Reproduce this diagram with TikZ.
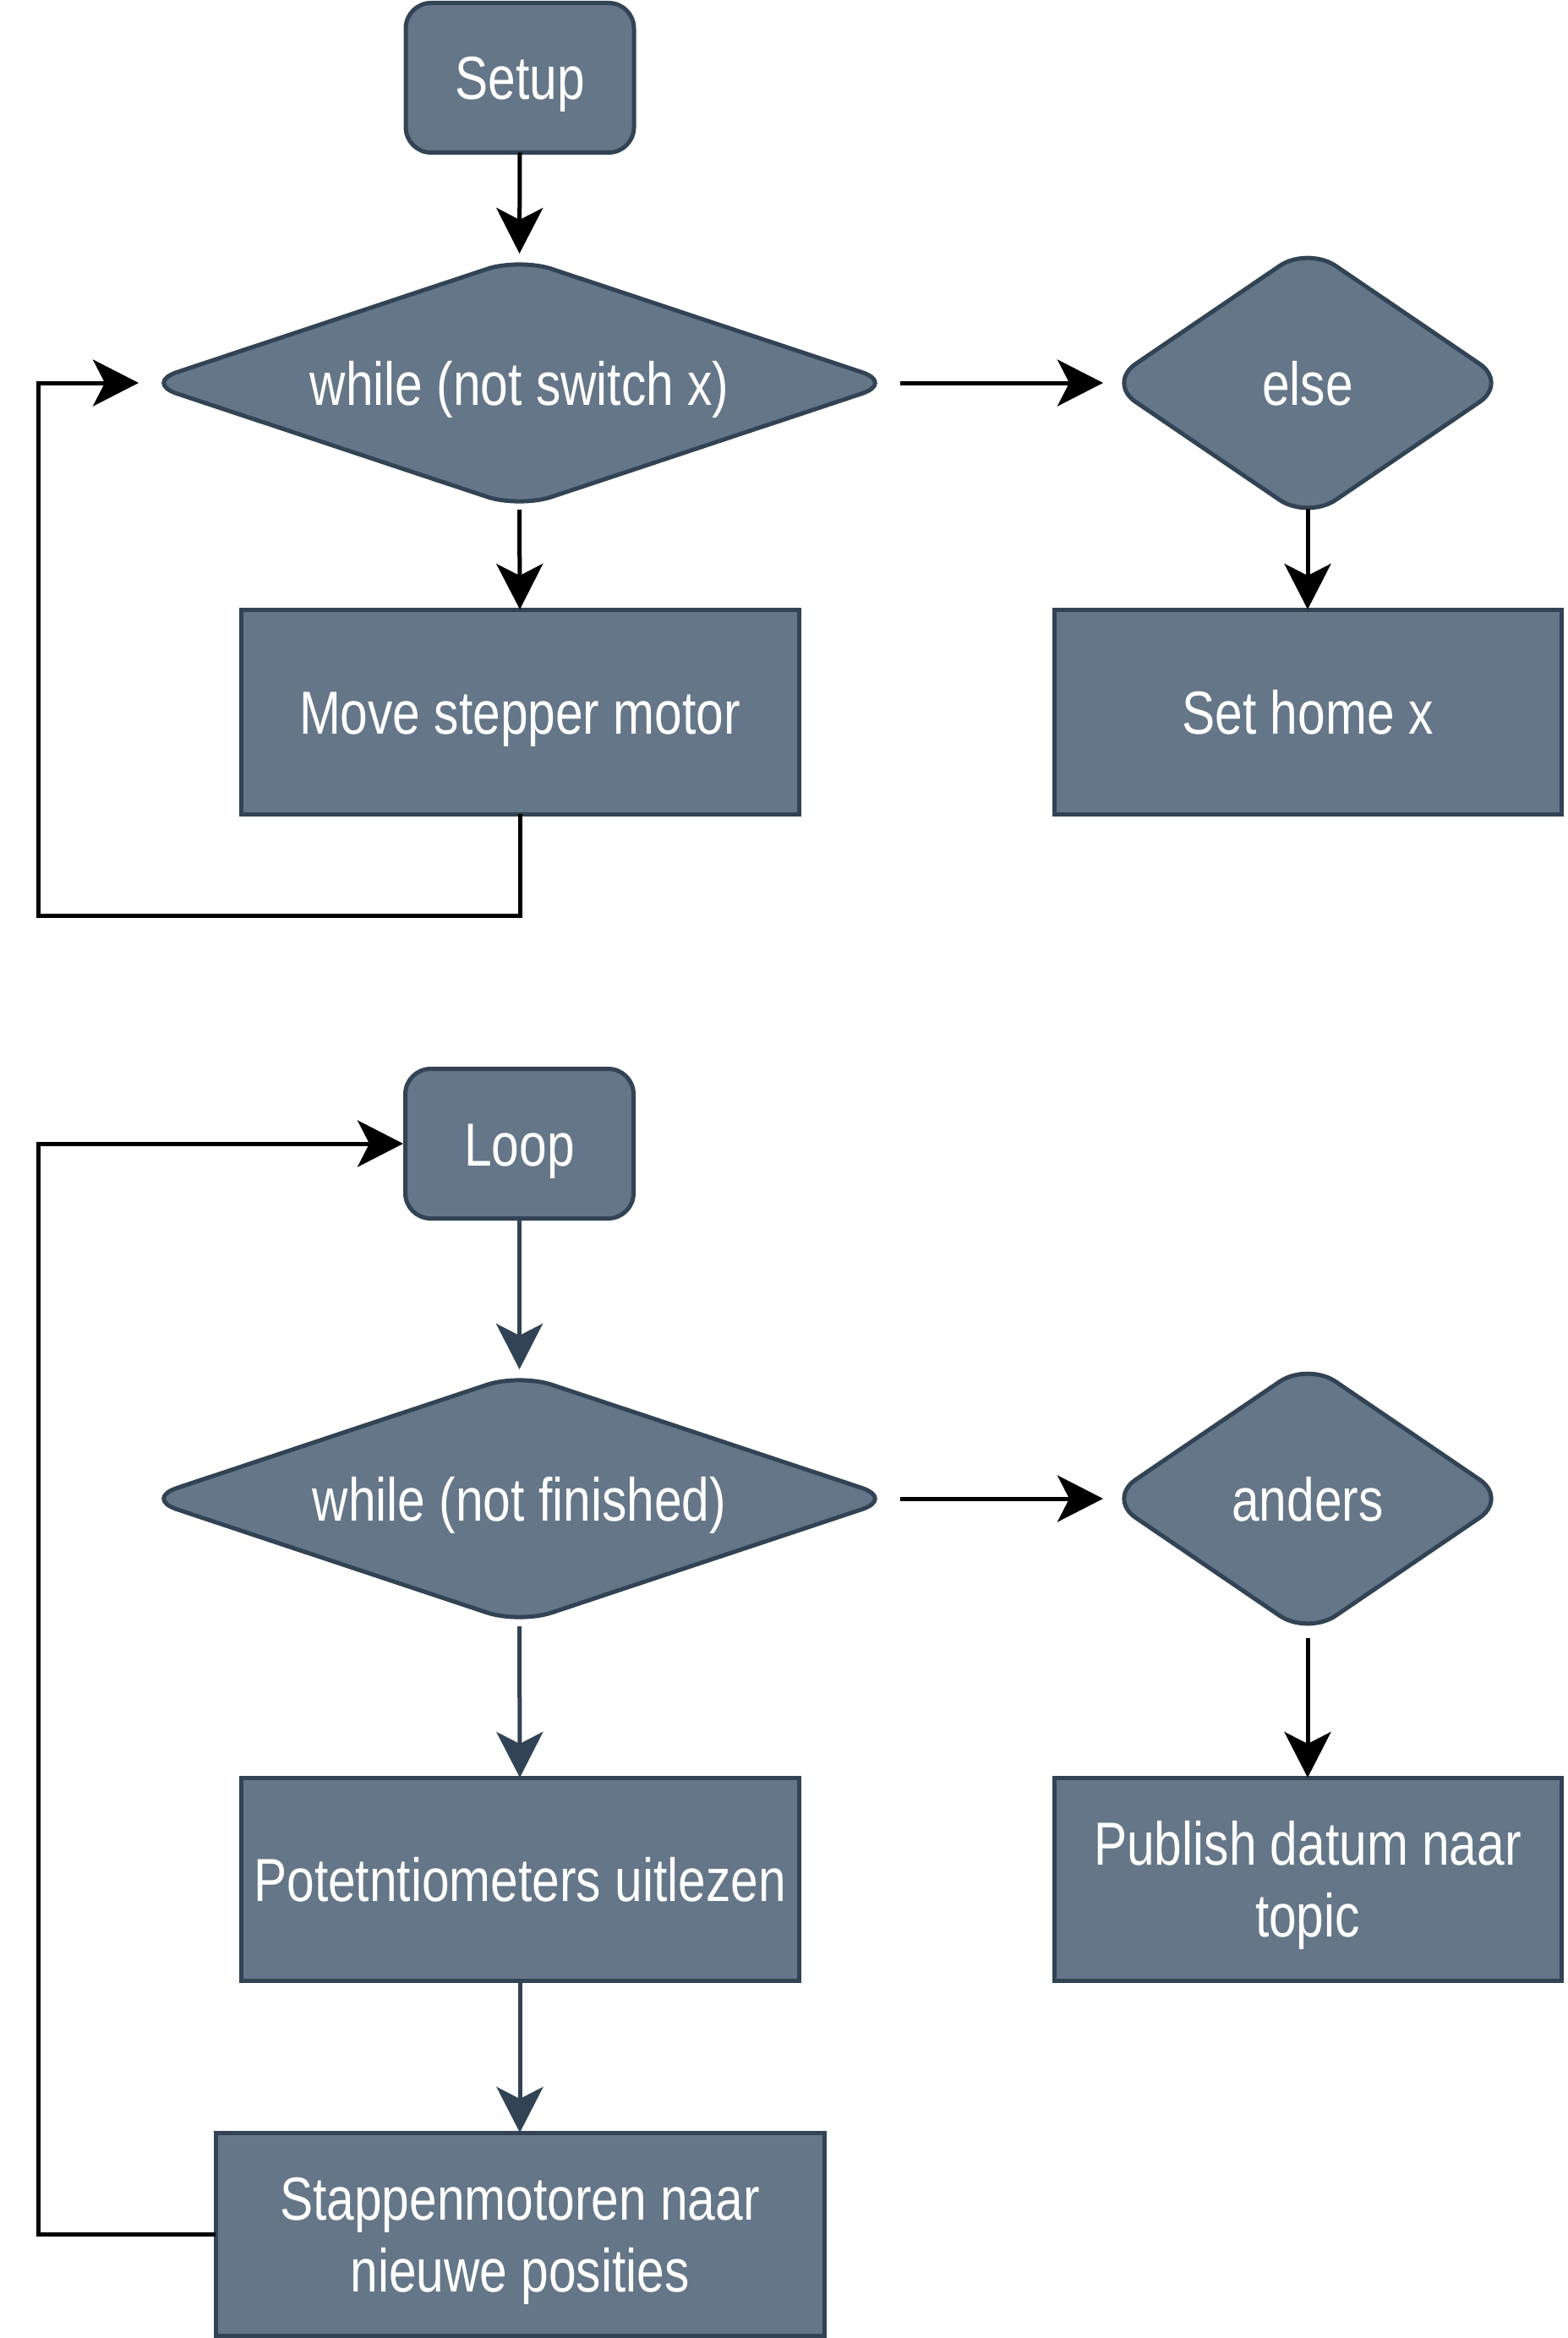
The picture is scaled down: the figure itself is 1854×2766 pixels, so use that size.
\documentclass[tikz,border=0pt]{standalone}
\usepackage{fontspec}
\setmainfont{Liberation Sans}[FakeStretch=0.815]
\usetikzlibrary{arrows.meta,shapes.geometric}
\definecolor{boxfill}{HTML}{647687}
\definecolor{boxline}{HTML}{314354}
\begin{document}
\begin{tikzpicture}[x=0.5pt,y=-0.5pt,
  base/.style={fill=boxfill, draw=boxline, line width=2.5pt, text=white,
    font=\fontsize{36}{42.5}\selectfont, inner sep=0pt, outer sep=0pt,
    text height=26pt, text depth=0pt, align=center},
  twoline/.style={text height=68.5pt},
  term/.style={base, rectangle, rounded corners=15pt, minimum width=135pt, minimum height=88.5pt},
  proc/.style={base, rectangle, minimum height=121pt},
  wdec/.style={base, diamond, rounded corners=20pt, aspect=3, minimum width=443pt, minimum height=147.5pt},
  sdec/.style={base, diamond, rounded corners=20pt, minimum width=236.5pt, minimum height=161pt},
  arr/.style={line width=2.5pt, -{Stealth[length=27pt,width=27.5pt,inset=7pt]}},
  darr/.style={arr, draw=boxline, fill=boxline},
]
\useasboundingbox (0,0) rectangle (1854,2766);

% top flow
\node[term] (setup) at (615,92) {Setup};
\node[wdec] (d1) at (614.5,453) {while (not switch x)};
\node[sdec] (else) at (1547,453) {else};
\node[proc, minimum width=330pt] (move) at (615,842) {Move stepper motor};
\node[proc, minimum width=300pt] (home) at (1547,842) {Set home x};

% bottom flow
\node[term] (loop) at (614.5,1353) {Loop};
\node[wdec] (d2) at (614.5,1773) {while (not finished)};
\node[sdec] (anders) at (1547,1773) {anders};
\node[proc, minimum width=330pt, minimum height=120pt] (pot) at (615,2223) {Potetntiometers uitlezen};
\node[proc, twoline, minimum width=300pt, minimum height=120pt] (pub) at (1547,2223) {Publish datum naar\\topic};
\node[proc, twoline, minimum width=360pt, minimum height=120pt] (stap) at (615,2643) {Stappenmotoren naar\\nieuwe posities};

\coordinate (c1) at (45,1083);
\coordinate (c2) at (45,2643);

% connectors top
\draw[arr, shorten >=2.75pt] (setup.south) -- (d1.north);
\draw[arr, shorten <=3.75pt, shorten >=2.75pt] (d1.east) -- (else.west);
\draw[arr, shorten <=1.25pt] (d1.south) -- (move.north);
\draw[arr, shorten <=-6pt] (else.south) -- (home.north);
\draw[arr, shorten >=3.75pt] (move.south) |- (c1) |- (d1.west);

% connectors bottom
\draw[darr, shorten >=2.75pt] (loop.south) -- (d2.north);
\draw[arr, shorten <=3.75pt, shorten >=2.75pt] (d2.east) -- (anders.west);
\draw[darr, shorten <=1.75pt] (d2.south) -- (pot.north);
\draw[arr, shorten <=2pt] (anders.south) -- (pub.north);
\draw[darr] (pot.south) -- (stap.north);
\draw[arr, shorten >=1.25pt] (stap.west) -- (c2) |- (loop.west);
\end{tikzpicture}
\end{document}
